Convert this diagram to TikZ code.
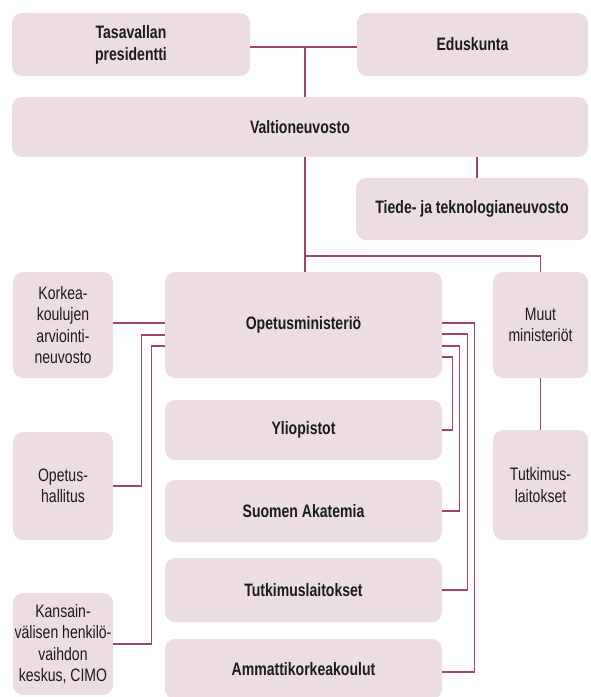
\documentclass[tikz,border=0pt]{standalone}
\usepackage{fontspec}
\setmainfont{Liberation Sans}[FakeStretch=0.78]
\usetikzlibrary{calc}
\definecolor{boxfill}{HTML}{ECDDE3}
\definecolor{linec}{HTML}{A54466}
\definecolor{txt}{HTML}{1C1C1C}
\tikzset{
  box/.style={rounded corners=10pt, fill=boxfill, draw=none, inner sep=1pt,
    align=center, text=txt, font=\fontsize{18}{21.5}\selectfont},
  bbox/.style={box, font=\fontsize{18}{22}\selectfont\bfseries},
  conn/.style={draw=linec, line width=1.3pt},
}
\begin{document}
\begin{tikzpicture}[x=1pt,y=-1pt]
\useasboundingbox (0,0) rectangle (590,697);
% boxes
\node[bbox, minimum width=238pt, minimum height=63pt] (tp) at (131,44.5) {Tasavallan\\presidentti};
\node[bbox, minimum width=231pt, minimum height=63pt] (ed) at (472.5,44.5) {Eduskunta};
\node[bbox, minimum width=576pt, minimum height=60pt] (vn) at (300,127) {Valtioneuvosto};
\node[bbox, minimum width=232pt, minimum height=62pt] (tt) at (472,209) {Tiede- ja teknologianeuvosto};
\node[bbox, minimum width=277pt, minimum height=106pt] (om) at (303.5,325) {Opetusministeriö};
\node[box, minimum width=95pt, minimum height=106pt] (mm) at (540.5,325) {Muut\\ministeriöt};
\node[box, minimum width=100pt, minimum height=106pt] (ka) at (63,325) {Korkea-\\koulujen\\arviointi-\\neuvosto};
\node[bbox, minimum width=277pt, minimum height=60pt] (yl) at (303.5,430) {Yliopistot};
\node[bbox, minimum width=277pt, minimum height=62pt] (sa) at (303.5,511) {Suomen Akatemia};
\node[bbox, minimum width=277pt, minimum height=64pt] (tl) at (303.5,590) {Tutkimuslaitokset};
\node[bbox, minimum width=277pt, minimum height=60pt] (ak) at (303.5,669) {Ammattikorkeakoulut};
\node[box, minimum width=100pt, minimum height=108pt] (oh) at (63,486) {Opetus-\\hallitus};
\node[box, minimum width=95pt, minimum height=110pt] (tk) at (540.5,485) {Tutkimus-\\laitokset};
\node[box, minimum width=100pt, minimum height=102pt] (ci) at (63,644) {Kansain-\\välisen henkilö-\\vaihdon\\keskus, CIMO};
% junction coordinates
\coordinate (j1) at (305,47);
\coordinate (j2) at (305,256);
\coordinate (j3) at (477,157);
% connectors
\draw[conn] ([yshift=-2.5pt]tp.east) -- ([yshift=-2.5pt]ed.west);
\draw[conn] (j1) -- (j1 |- vn.north);
\draw[conn] (vn.south -| j1) -- (om.north -| j1);
\draw[conn] (j3) -- (j3 |- tt.north);
\draw[conn] (j2) -| (mm.north);
\draw[conn] (mm.south) -- (tk.north);
\draw[conn] ([yshift=2pt]ka.east) -- ([yshift=2pt]om.west);
\draw[conn] (oh.east) -- ++(28,0) |- ([yshift=-10pt]om.west);
\draw[conn] (ci.east) -- ++(38,0) |- ([yshift=-21pt]om.west);
\draw[conn] ([yshift=-32pt]om.east) -- ++(10,0) |- (yl.east);
\draw[conn] ([yshift=-21pt]om.east) -- ++(17,0) |- (sa.east);
\draw[conn] ([yshift=-9pt]om.east) -- ++(25,0) |- (tl.east);
\draw[conn] ([yshift=2pt]om.east) -- ++(32,0) |- ([yshift=-3pt]ak.east);
\end{tikzpicture}
\end{document}
